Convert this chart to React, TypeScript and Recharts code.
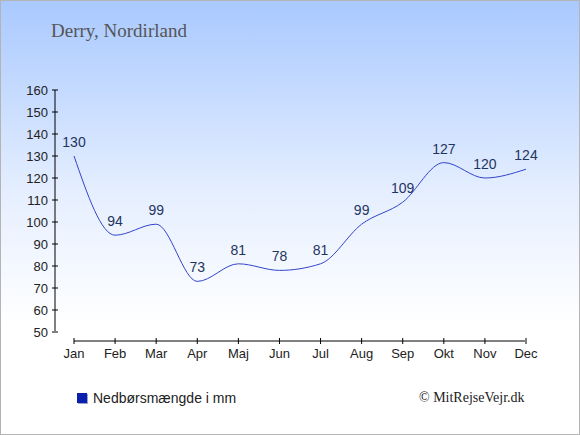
import { LineChart, Line, XAxis, YAxis, LabelList } from "recharts";

const months = ["Jan", "Feb", "Mar", "Apr", "Maj", "Jun", "Jul", "Aug", "Sep", "Okt", "Nov", "Dec"];
const rainfall = [130, 94, 99, 73, 81, 78, 81, 99, 109, 127, 120, 124];
const yTicks = [50, 60, 70, 80, 90, 100, 110, 120, 130, 140, 150, 160];

const SERIES_NAME = "Nedbørsmængde i mm";
const sans = "'Liberation Sans', Arial, sans-serif";
const serif = "'Liberation Serif', 'Times New Roman', serif";

const data = months.map((m, i) => ({ month: m, value: rainfall[i] }));

function YTick(props: any) {
  const { x, y, payload } = props;
  return (
    <g>
      <line x1={x - 3} x2={x + 3} y1={y} y2={y} stroke="#000" />
      <text x={x - 7} y={y} dy={4.5} textAnchor="end" fontSize={13} fill="#222" fontFamily={sans}>
        {payload.value}
      </text>
    </g>
  );
}

function XTick(props: any) {
  const { x, y, payload } = props;
  return (
    <g>
      <line x1={x} x2={x} y1={y - 3} y2={y + 3} stroke="#000" />
      <text x={x} y={y + 17} textAnchor="middle" fontSize={13} fill="#222" fontFamily={sans}>
        {payload.value}
      </text>
    </g>
  );
}

export default function App() {
  return (
    <div
      style={{
        position: "relative",
        width: 580,
        height: 435,
        boxSizing: "border-box",
        border: "1px solid #b4b4b4",
        background: "linear-gradient(to bottom, #a9c9ff 0%, #e6efff 45%, #ffffff 75%)",
        overflow: "hidden",
      }}
    >
      <style>{"body{margin:0}"}</style>
      <div
        style={{
          position: "absolute",
          left: 50,
          top: 19,
          fontFamily: serif,
          fontSize: 19,
          color: "#555",
        }}
      >
        Derry, Nordirland
      </div>
      <div
        style={{
          position: "absolute",
          left: 76,
          top: 389,
          display: "flex",
          alignItems: "center",
          fontFamily: sans,
          fontSize: 14,
          color: "#222",
        }}
      >
        <span
          style={{
            display: "inline-block",
            width: 10,
            height: 10,
            background: "#0a1fae",
            boxShadow: "1px 1px 0 #9aa4c8",
            marginRight: 6,
          }}
        />
        {SERIES_NAME}
      </div>
      <div
        style={{
          position: "absolute",
          left: 418,
          top: 389,
          fontFamily: serif,
          fontSize: 14,
          color: "#222",
        }}
      >
        © MitRejseVejr.dk
      </div>
      <LineChart
        width={578}
        height={433}
        data={data}
        margin={{ top: 89, right: 33, bottom: 63, left: 0 }}
        style={{ position: "absolute", left: 0, top: 0 }}
      >
        <XAxis
          dataKey="month"
          interval={0}
          height={30}
          padding={{ left: 19, right: 20 }}
          axisLine={{ stroke: "#000", strokeDasharray: "0 19 451 100" }}
          tickLine={false}
          tickSize={0}
          tickMargin={0}
          tick={<XTick />}
        />
        <YAxis
          domain={[50, 160]}
          ticks={yTicks}
          interval={0}
          width={54}
          padding={{ bottom: 9 }}
          axisLine={{ stroke: "#000", strokeDasharray: "241 50" }}
          tickLine={false}
          tickSize={0}
          tickMargin={0}
          tick={<YTick />}
        />
        <Line
          type="monotone"
          dataKey="value"
          name={SERIES_NAME}
          stroke="#3344cc"
          strokeWidth={1}
          dot={false}
          activeDot={false}
          isAnimationActive={false}
        >
          <LabelList
            dataKey="value"
            position="top"
            offset={9}
            fontSize={14}
            fill="#1f3560"
            fontFamily={sans}
          />
        </Line>
      </LineChart>
    </div>
  );
}
